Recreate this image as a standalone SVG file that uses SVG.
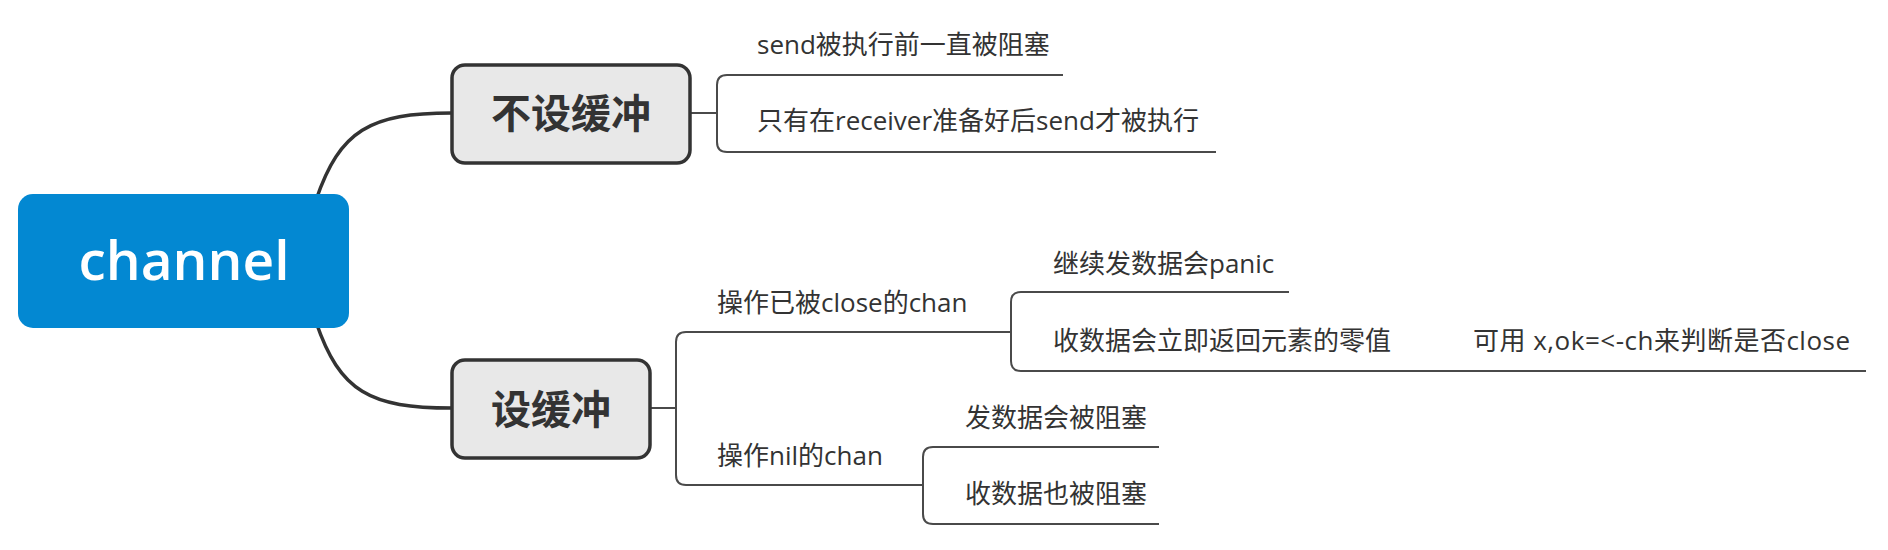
<svg xmlns="http://www.w3.org/2000/svg" width="1888" height="550" viewBox="0 0 1888 550">
<style>
.main{fill:none;stroke:#333;stroke-width:3.5}
.sub{fill:none;stroke:#4a4a4a;stroke-width:2}
.branch rect{fill:#e8e8e8;stroke:#333;stroke-width:3.5}
.branch text{font-family:"Noto Sans CJK SC","Noto Sans",sans-serif;font-weight:700;font-size:40px;fill:#333;text-anchor:middle}
.leaf{font-family:"Open Sans","Noto Sans CJK SC",sans-serif;font-size:26px;fill:#333}
</style>
<rect width="1888" height="550" fill="#fff"/>
<g id="connectors">
<path class="main" d="M316 200 C340 130 370 113 452 113"/>
<path class="main" d="M316 322 C340 392 370 408 452 408"/>
<path class="sub" d="M690 113 H717 M1063 75 H727 Q717 75 717 85 V142 Q717 152 727 152 H1216"/>
<path class="sub" d="M650 408 H676 M1011 332 H686 Q676 332 676 342 V475 Q676 485 686 485 H923"/>
<path class="sub" d="M1289 292 H1021 Q1011 292 1011 302 V361 Q1011 371 1021 371 H1866"/>
<path class="sub" d="M1159 447 H933 Q923 447 923 457 V514 Q923 524 933 524 H1159"/>
</g>
<g id="root">
<rect x="18" y="194" width="331" height="134" rx="15" fill="#0388d2"/>
<text x="184" y="280" font-family="Open Sans,sans-serif" font-weight="600" font-size="55" fill="#fff" text-anchor="middle">channel</text>
</g>
<g id="node-nobuffer" class="branch">
<rect x="452" y="65" width="238" height="98" rx="13"/>
<text x="571" y="128">不设缓冲</text>
</g>
<g id="node-buffer" class="branch">
<rect x="452" y="360" width="198" height="98" rx="13"/>
<text x="551" y="424">设缓冲</text>
</g>
<g id="leaf-send-blocked"><text class="leaf" x="757" y="54">send被执行前一直被阻塞</text></g>
<g id="leaf-receiver-ready"><text class="leaf" x="757" y="130">只有在receiver准备好后send才被执行</text></g>
<g id="node-closed-chan"><text class="leaf" x="717" y="312">操作已被close的chan</text></g>
<g id="node-nil-chan"><text class="leaf" x="717" y="465">操作nil的chan</text></g>
<g id="leaf-panic"><text class="leaf" x="1053" y="273">继续发数据会panic</text></g>
<g id="leaf-zero-value"><text class="leaf" x="1053" y="350">收数据会立即返回元素的零值</text></g>
<g id="leaf-ok-check"><text class="leaf" x="1473" y="350" letter-spacing="0.5">可用 x,ok=&lt;-ch来判断是否close</text></g>
<g id="leaf-nil-send"><text class="leaf" x="965" y="427">发数据会被阻塞</text></g>
<g id="leaf-nil-recv"><text class="leaf" x="965" y="503">收数据也被阻塞</text></g>
</svg>
